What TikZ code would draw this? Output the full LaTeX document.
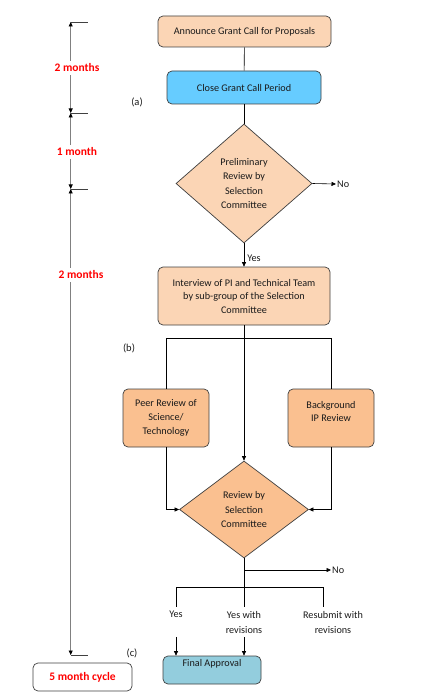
\documentclass[tikz,border=0pt]{standalone}
\usepackage{fontspec}
\setmainfont{Carlito}
\usetikzlibrary{shapes.geometric,arrows.meta}
\definecolor{peach}{HTML}{FBD5B5}
\definecolor{orng}{HTML}{FAC090}
\definecolor{sky}{HTML}{66CCFF}
\definecolor{finalblue}{HTML}{93CDDD}
\definecolor{edge}{HTML}{404040}
\definecolor{txt}{HTML}{1A1A1A}
\definecolor{redtxt}{HTML}{FF0000}
\begin{document}
\begin{tikzpicture}[x=1pt,y=-1pt,
  font=\fontsize{10.2}{12}\selectfont, text=txt,
  box/.style={draw=edge, rounded corners=5pt, align=center, inner sep=0pt, line width=0.7pt},
  dia/.style={diamond, draw=edge, align=center, inner sep=0pt, line width=0.7pt, font=\fontsize{10.2}{14.5}\selectfont},
  con/.style={draw=black, line width=0.6pt},
  tip/.style={-{Triangle[length=4.5pt,width=4pt]}},
  arr/.style={con, tip},
  lbl/.style={inner sep=4pt, align=center, font=\fontsize{10.2}{15}\selectfont},
  tl/.style={draw=gray, line width=0.8pt, {Triangle[length=4.5pt,width=4pt,color=black]}-{Triangle[length=4.5pt,width=4pt,color=black]}},
  tick/.style={draw=edge, line width=0.6pt},
  redlbl/.style={text=redtxt, font=\fontsize{11.5}{13}\selectfont\bfseries, fill=white, inner sep=3pt},
  side/.style={font=\fontsize{10.5}{12}\selectfont}
]
\useasboundingbox (0,0) rectangle (420,700);

% main column
\node[box, fill=peach, minimum width=173pt, minimum height=31pt] (n1) at (244.5,31.5) {Announce Grant Call for Proposals};
\node[box, fill=sky, minimum width=154pt, minimum height=33pt] (n2) at (244,87.5) {Close Grant Call Period};
\node[dia, fill=peach, minimum width=136pt, minimum height=119pt] (d1) at (244,183.5) {Preliminary\\Review by\\Selection\\Committee};
\node[box, fill=peach, minimum width=172pt, minimum height=58pt, font=\fontsize{10.2}{13.5}\selectfont] (n3) at (244,296) {Interview of PI and Technical Team\\by sub-group of the Selection\\Committee};
\node[box, fill=orng, minimum width=86pt, minimum height=58pt, font=\fontsize{10.2}{14}\selectfont] (peer) at (166,418) {Peer Review of\\Science/\\Technology};
\node[box, fill=orng, minimum width=86pt, minimum height=58pt, font=\fontsize{10.2}{13.5}\selectfont] (bg) at (331,418) {Background\\IP Review\\\mbox{}};
\node[dia, fill=orng, minimum width=129pt, minimum height=97pt] (d2) at (244,509.5) {Review by\\Selection\\Committee};
\node[box, fill=finalblue, minimum width=98pt, minimum height=28pt] (fa) at (212,670) {Final Approval\\[3pt]};

% decision labels
\node[anchor=west, inner sep=1pt] (no1) at (336,184) {No};
\node[anchor=west, inner sep=1pt] (no2) at (331,570) {No};
\node[lbl] (yes) at (176,622) {Yes\\\mbox{}};
\node[lbl] (ywr) at (244,622) {Yes with\\revisions};
\node[lbl] (rs) at (333,622) {Resubmit with\\revisions};

% connectors
\draw[con] (n1) -- (n2);
\draw[con] (n2) -- (d1);
\draw[arr] (d1.east) -- (no1.west);
\draw[arr] (d1.south) -- node[pos=0.65, anchor=west, inner sep=3pt] (yl) {Yes} (n3.north);
\coordinate (br) at (244,338);
\draw[con] (n3.south) -- (br);
\draw[con] (peer.north) -- (peer.north |- br) -- (bg.north |- br) -- (bg.north);
\draw[arr] (br) -- (d2.north);
\draw[arr] (peer.south) |- (d2.west);
\draw[arr] (bg.south) |- (d2.east);
\coordinate (nb) at (244,570);
\coordinate (hb) at (244,587);
\coordinate (hl) at (176,587);
\coordinate (hr) at (323,587);
\draw[con] (d2.south) -- (hb);
\draw[arr] (nb) -- (no2.west);
\draw[con] (hl) -- (hr);
\draw[con] (hl) -- (yes.north);
\draw[con] (hb) -- (ywr.north);
\draw[con] (hr) -- (hr |- rs.north);
\draw[arr] (yes.south) -- (yes.south |- fa.north);
\draw[arr] (ywr.south) -- (ywr.south |- fa.north);

% timeline
\coordinate (ta) at (70.7,22);
\coordinate (tb) at (70.7,113);
\coordinate (tc) at (70.7,189);
\coordinate (td) at (70.7,655);
\draw[tl] (ta) -- (tb);
\draw[tl] (tb) -- (tc);
\draw[tl] (tc) -- (td);
\draw[tick] (ta) -- ++(17.5,0);
\draw[tick] (tb) -- ++(17.5,0);
\draw[tick] (tc) -- ++(17.5,0);
\draw[tick] (td) -- ++(17.5,0);
\node[redlbl] (m1) at (77,68) {2 months};
\node[redlbl] (m2) at (77,152) {1 month};
\node[redlbl] (m3) at (81,275) {2 months};
\node[box, fill=white, minimum width=99pt, minimum height=28pt, text=redtxt, font=\fontsize{11.5}{13}\selectfont\bfseries] (cyc) at (82.5,677) {5 month cycle};

% side labels
\node[side] (la) at (137,102) {(a)};
\node[side] (lb) at (129,348) {(b)};
\node[side] (lc) at (132,653) {(c)};
\end{tikzpicture}
\end{document}
